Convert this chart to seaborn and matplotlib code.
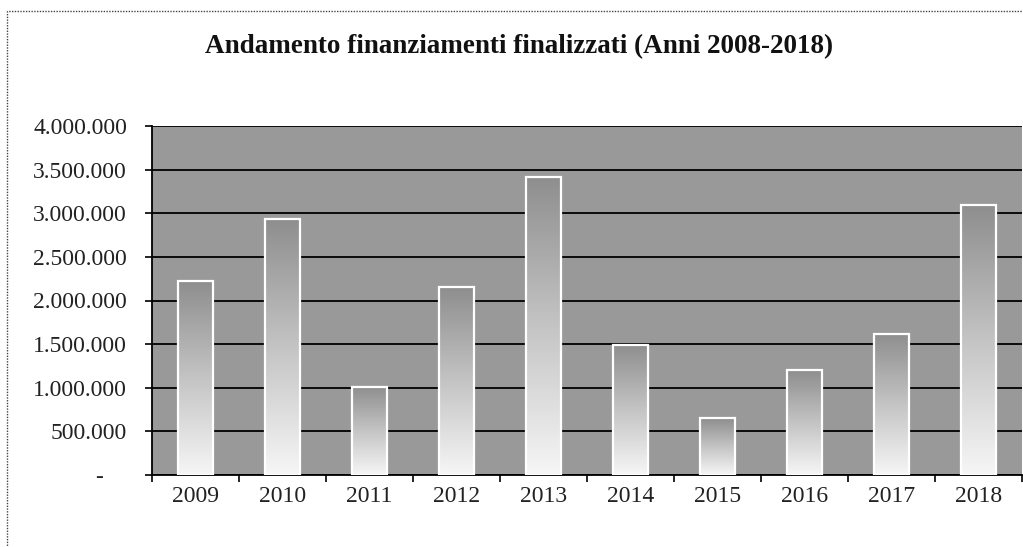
import seaborn as sns
import matplotlib.pyplot as plt
import numpy as np
import pandas as pd
from matplotlib.patches import Rectangle
from matplotlib.colors import LinearSegmentedColormap
from matplotlib.ticker import FuncFormatter

anni = ['2009', '2010', '2011', '2012', '2013', '2014', '2015', '2016', '2017', '2018']
finanziamenti = [2220000, 2930000, 1010000, 2150000, 3420000, 1490000, 650000, 1200000, 1620000, 3090000]
y_ticks = [0, 500000, 1000000, 1500000, 2000000, 2500000, 3000000, 3500000, 4000000]

df = pd.DataFrame({'anno': anni, 'valore': finanziamenti})

sns.set_theme(style='white')
plt.rcParams['font.family'] = ['Liberation Serif', 'DejaVu Serif']

fig = plt.figure(figsize=(10.23, 5.47), dpi=100)
ax = fig.add_axes([152 / 1023, 1 - 475 / 547, 870 / 1023, 349 / 547])
ax.set_facecolor('#999999')

sns.barplot(data=df, x='anno', y='valore', ax=ax, color='white', width=0.41,
            edgecolor='white', linewidth=1.6, zorder=3, saturation=1)

# gradient fill inside each bar: dark at the top, light at the bottom
grad_cmap = LinearSegmentedColormap.from_list('bar', ['#f6f6f6', '#c4c4c4', '#8e8e8e'])
grad = np.linspace(0, 1, 256).reshape(-1, 1)
for p in ax.patches:
    x0, w, h = p.get_x(), p.get_width(), p.get_height()
    im = ax.imshow(grad, extent=[x0, x0 + w, 0, h], origin='lower', aspect='auto',
                   cmap=grad_cmap, zorder=3.2, interpolation='bilinear')
    im.set_clip_path(p)
    p.set_facecolor('none')
    p.set_zorder(3.5)

ax.set_xlim(-0.5, len(anni) - 0.5)
ax.set_ylim(0, 4000000)
ax.set_yticks(y_ticks)
ax.yaxis.set_major_formatter(FuncFormatter(
    lambda v, _: '-    ' if v == 0 else f'{int(v):,}'.replace(',', '.')))

ax.set_axisbelow(True)
ax.yaxis.grid(True, color='black', linewidth=1.3)
ax.xaxis.grid(False)

ax.set_xticks(np.arange(-0.5, len(anni) + 0.5, 1), minor=True)
ax.tick_params(axis='x', which='major', length=0, pad=8, labelsize=17, colors='#222222')
ax.tick_params(axis='x', which='minor', length=5, width=1.2, color='black', direction='out', bottom=True)
ax.tick_params(axis='y', length=5, width=1.2, color='black', direction='out', left=True,
               pad=13, labelsize=17, labelcolor='#222222')

for s in ['top', 'right']:
    ax.spines[s].set_visible(False)
for s in ['left', 'bottom']:
    ax.spines[s].set_color('black')
    ax.spines[s].set_linewidth(1.3)

ax.set_xlabel('')
ax.set_ylabel('')

fig.text(0.507, 1 - 47 / 547, 'Andamento finanziamenti finalizzati (Anni 2008-2018)',
         ha='center', va='center', fontsize=19.5, fontweight='bold', color='#111111')

fig.add_artist(Rectangle((7 / 1023, -0.1), 1.2, 1.1 - 11 / 547, transform=fig.transFigure,
                         fill=False, edgecolor='#444444', linewidth=1.0, linestyle=(0, (1, 1))))

fig.savefig('out.png', dpi=100)
